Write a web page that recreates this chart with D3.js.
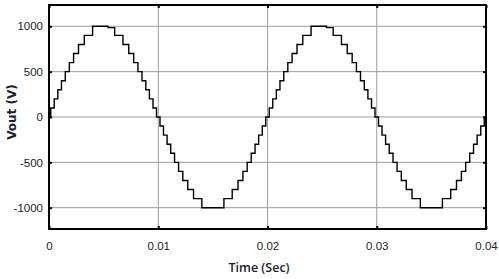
<!DOCTYPE html>
<html>
<head>
<meta charset="utf-8">
<script src="https://cdn.jsdelivr.net/npm/d3@7"></script>
<style>
  body { margin: 0; background: #fff; }
  svg { display: block; }
</style>
</head>
<body>
<div id="chart"></div>
<script>
// STEP TIMES (SEC) AND THE OUTPUT LEVEL (V) HELD AFTER EACH STEP
const stepTimes = [
  0.00016, 0.00048, 0.00081, 0.00114, 0.00149, 0.00186, 0.00225, 0.00270, 0.00323, 0.00399,
  0.00540, 0.00601, 0.00677, 0.00730, 0.00775, 0.00814, 0.00851, 0.00886, 0.00919, 0.00952, 0.00984,
  0.01016, 0.01048, 0.01081, 0.01114, 0.01149, 0.01186, 0.01225, 0.01270, 0.01323, 0.01399,
  0.01601, 0.01677, 0.01730, 0.01775, 0.01814, 0.01851, 0.01886, 0.01919, 0.01952, 0.01984,
  0.02016, 0.02048, 0.02081, 0.02114, 0.02149, 0.02186, 0.02225, 0.02270, 0.02323, 0.02399,
  0.02540, 0.02601, 0.02677, 0.02730, 0.02775, 0.02814, 0.02851, 0.02886, 0.02919, 0.02952, 0.02984,
  0.03016, 0.03048, 0.03081, 0.03114, 0.03149, 0.03186, 0.03225, 0.03270, 0.03323, 0.03399,
  0.03601, 0.03677, 0.03730, 0.03775, 0.03814, 0.03851, 0.03886, 0.03919, 0.03952, 0.03984
];
const stepLevels = [
  100, 200, 300, 400, 500, 600, 700, 800, 900, 1000,
  985, 900, 800, 700, 600, 500, 400, 300, 200, 100, 0,
  -100, -200, -300, -400, -500, -600, -700, -800, -900, -1000,
  -900, -800, -700, -600, -500, -400, -300, -200, -100, 0,
  100, 200, 300, 400, 500, 600, 700, 800, 900, 1000,
  985, 900, 800, 700, 600, 500, 400, 300, 200, 100, 0,
  -100, -200, -300, -400, -500, -600, -700, -800, -900, -1000,
  -900, -800, -700, -600, -500, -400, -300, -200, -100, 0
];
const xTicks = [0, 0.01, 0.02, 0.03, 0.04];
const xTickLabels = ["0", "0.01", "0.02", "0.03", "0.04"];
const yTicks = [-1000, -500, 0, 500, 1000];
const yTickLabels = ["-1000", "-500", "0", "500", "1000"];

// SIZE AND PLOT BOX
const W = 499, H = 279;
const plot = { left: 49, right: 486, top: 5, bottom: 229 };

const x = d3.scaleLinear().domain([0, 0.04]).range([plot.left, plot.right]);
const y = d3.scaleLinear().domain([-1235, 1235]).range([plot.bottom, plot.top]);

const svg = d3.select("#chart").append("svg")
  .attr("width", W)
  .attr("height", H);

// GRID
svg.append("g")
  .selectAll("line")
  .data(yTicks)
  .join("line")
  .attr("x1", plot.left).attr("x2", plot.right)
  .attr("y1", d => y(d)).attr("y2", d => y(d))
  .style("stroke", "#9c9c9c")
  .style("stroke-width", 1);

svg.append("g")
  .selectAll("line")
  .data(xTicks.slice(1, -1))
  .join("line")
  .attr("y1", plot.top).attr("y2", plot.bottom)
  .attr("x1", d => x(d)).attr("x2", d => x(d))
  .style("stroke", "#9c9c9c")
  .style("stroke-width", 1);

// WAVEFORM
const points = [[0, 0]];
stepTimes.forEach((t, i) => points.push([t, stepLevels[i]]));
points.push([0.04, stepLevels[stepLevels.length - 1]]);

svg.append("clipPath").attr("id", "clip")
  .append("rect")
  .attr("x", plot.left).attr("y", plot.top)
  .attr("width", plot.right - plot.left).attr("height", plot.bottom - plot.top);

const line = d3.line()
  .curve(d3.curveStepAfter)
  .x(d => x(d[0]))
  .y(d => y(d[1]));

svg.append("path")
  .datum(points)
  .attr("clip-path", "url(#clip)")
  .attr("d", line)
  .style("fill", "none")
  .style("stroke", "#000")
  .style("stroke-width", 1.4);

// AXES
const fontAxis = "'Liberation Sans', Arial, sans-serif";

svg.append("g")
  .attr("transform", `translate(${plot.left},0)`)
  .call(d3.axisLeft(y).tickValues(yTicks).tickSize(-3).tickPadding(6).tickSizeOuter(0)
    .tickFormat((d, i) => yTickLabels[i]));

svg.append("g")
  .attr("transform", `translate(${plot.right},0)`)
  .call(d3.axisRight(y).tickValues(yTicks).tickSize(-3).tickFormat("").tickSizeOuter(0));

svg.append("g")
  .attr("transform", `translate(0,${plot.bottom})`)
  .call(d3.axisBottom(x).tickValues(xTicks).tickSize(-3).tickPadding(13).tickSizeOuter(0)
    .tickFormat((d, i) => xTickLabels[i]));

svg.append("g")
  .attr("transform", `translate(0,${plot.top})`)
  .call(d3.axisTop(x).tickValues(xTicks).tickSize(-3).tickFormat("").tickSizeOuter(0));

svg.selectAll(".domain").remove();
svg.selectAll(".tick line").style("stroke", "#000").style("stroke-width", 2);
svg.selectAll(".tick text")
  .style("font-family", fontAxis)
  .style("font-size", "11.5px")
  .style("fill", "#222");

// FRAME
svg.append("rect")
  .attr("x", plot.left).attr("y", plot.top)
  .attr("width", plot.right - plot.left).attr("height", plot.bottom - plot.top)
  .style("fill", "none")
  .style("stroke", "#000")
  .style("stroke-width", 2);

// AXIS TITLES
svg.append("text")
  .attr("x", 259)
  .attr("y", 272)
  .attr("text-anchor", "middle")
  .style("font-family", "'Open Sans', sans-serif")
  .style("font-weight", 600)
  .style("font-size", "12.5px")
  .style("fill", "#1c1c2e")
  .text("Time (Sec)");

svg.append("text")
  .attr("transform", "translate(16,112) rotate(-90)")
  .attr("text-anchor", "middle")
  .style("font-family", "'DejaVu Sans', sans-serif")
  .style("font-weight", "bold")
  .style("font-size", "12px")
  .style("fill", "#1c1c2e")
  .text("Vout (V)");
</script>
</body>
</html>
